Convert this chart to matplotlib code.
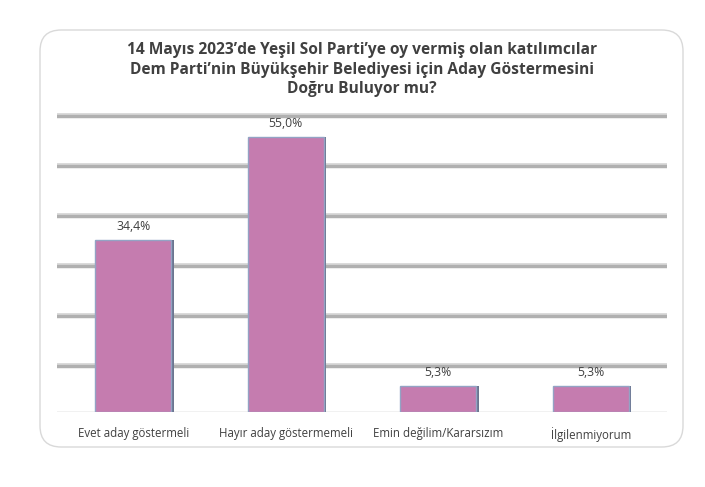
import numpy as np
import matplotlib.pyplot as plt
from matplotlib.patches import FancyBboxPatch
import matplotlib.transforms as mtransforms

categories = ["Evet aday göstermeli", "Hayır aday göstermemeli",
              "Emin değilim/Kararsızım", "İlgilenmiyorum"]
values = [34.4, 55.0, 5.3, 5.3]
value_labels = ["34,4%", "55,0%", "5,3%", "5,3%"]
grid_values = [10, 20, 30, 40, 50, 60]

W, H = 705, 487
fig = plt.figure(figsize=(W / 100, H / 100), dpi=100)
fig.patch.set_facecolor("white")

# rounded frame
box = FancyBboxPatch((40 / W, 1 - 447 / H), (683 - 40) / W, (447 - 30) / H,
                     boxstyle="round,pad=0,rounding_size=0.03",
                     transform=fig.transFigure, facecolor="none",
                     edgecolor="#d9d9d9", linewidth=1.0, mutation_aspect=W / H,
                     zorder=-1)
fig.patches.append(box)

ax = fig.add_axes([57 / W, 1 - 412 / H, (667 - 57) / W, (412 - 112) / H])
ax.set_xlim(-0.5, 3.5)
ax.set_ylim(0, 60)
ax.axis("off")

# shadowed gridlines (3D back wall look)
for g in grid_values:
    off_dark = mtransforms.offset_copy(ax.transData, fig=fig, x=0, y=-4, units="dots")
    off_light = mtransforms.offset_copy(ax.transData, fig=fig, x=0, y=-1.5, units="dots")
    ax.plot([-0.5, 3.5], [g, g], color="#b0b0b0", lw=3.2, transform=off_dark, zorder=1)
    ax.plot([-0.5, 3.5], [g, g], color="#d8d8d8", lw=1.2, transform=off_light, zorder=1)
ax.plot([-0.5, 3.5], [0, 0], color="#b8b8b8", lw=1.0, zorder=1)

x = np.arange(len(categories))
ax.bar(x + 0.015, values, width=0.5, color="#6b7690", zorder=2)
ax.bar(x, values, width=0.5, color="#c57caf", edgecolor="#93a3c4", linewidth=1.0, zorder=3)

for xi, v, lab in zip(x, values, value_labels):
    ax.annotate(lab, (xi, v), xytext=(0, 5), textcoords="offset points",
                ha="center", va="bottom", fontsize=8.8, color="#404040",
                family="Open Sans")

for xi, c in zip(x, categories):
    ax.annotate(c, (xi, 0), xytext=(0, -11), textcoords="offset points",
                ha="center", va="top", fontsize=8.3, color="#404040",
                family="Open Sans")

title = ("14 Mayıs 2023’de Yeşil Sol Parti’ye oy vermiş olan katılımcılar\n"
         "Dem Parti’nin Büyükşehir Belediyesi için Aday Göstermesini\n"
         "Doğru Buluyor mu?")
fig.text(362 / W, 1 - 42 / H, title, ha="center", va="top", fontsize=11.2,
         fontweight="bold", color="#404040", family="Open Sans",
         linespacing=1.3)

fig.savefig("out.png", dpi=100)
